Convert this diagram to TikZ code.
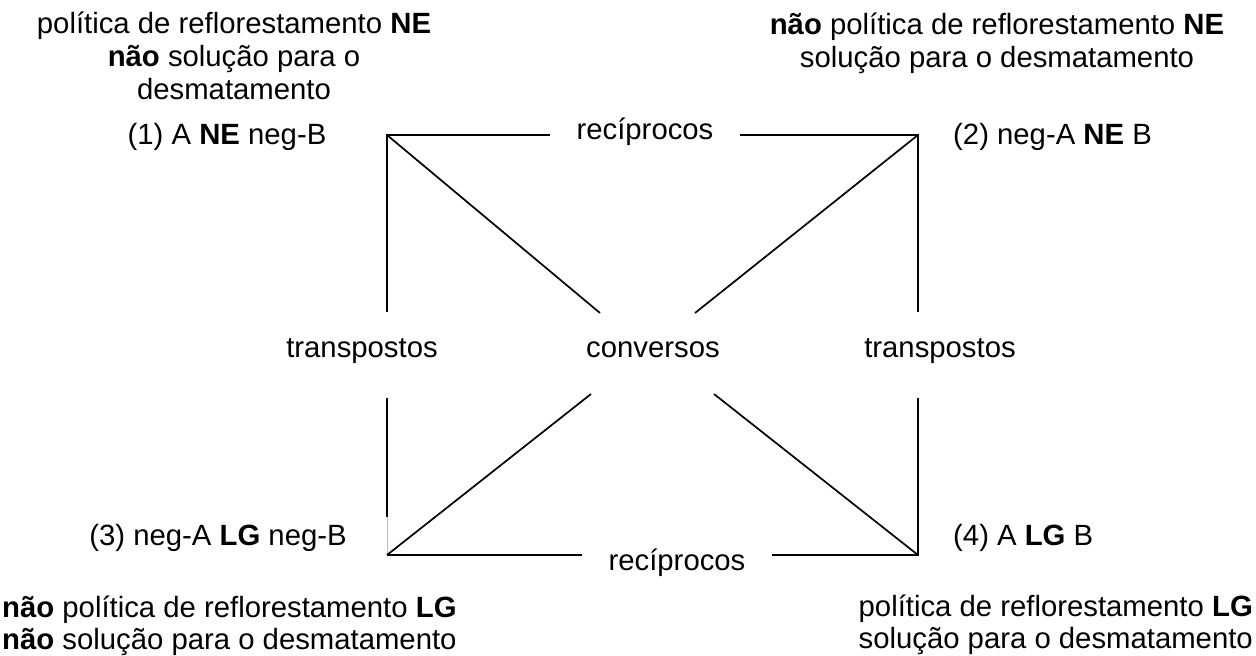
\documentclass[tikz,border=0pt]{standalone}
\usepackage{fontspec}
\setmainfont{Liberation Sans}
\begin{document}
\begin{tikzpicture}[x=1pt,y=-1pt,
  txt/.style={inner sep=0pt, font=\fontsize{29.3}{32.5}\selectfont},
  ln/.style={line width=1.7pt, black, line join=miter}]
\useasboundingbox (0,0) rectangle (1256,656);
% corners and free ends
\coordinate (TL) at (387,135);
\coordinate (TR) at (918,135);
\coordinate (BL) at (387,555);
\coordinate (BR) at (918,555);
\coordinate (t1) at (550,135);
\coordinate (t2) at (740,135);
\coordinate (b1) at (582,555);
\coordinate (b2) at (772,555);
\coordinate (l1) at (387,312);
\coordinate (l2) at (387,398);
\coordinate (l3) at (387,517);
\coordinate (r1) at (918,312);
\coordinate (r2) at (918,398);
\coordinate (d1) at (600,313);
\coordinate (d2) at (695,313);
\coordinate (d3) at (591,394);
\coordinate (d4) at (714,394);
% texts
\node[txt,anchor=base] (tl1) at (234,33) {política de reflorestamento \textbf{NE}};
\node[txt,anchor=base] (tl2) at (234,66) {\textbf{não} solução para o};
\node[txt,anchor=base] (tl3) at (234,99) {desmatamento};
\node[txt,anchor=base] (n1) at (227,144) {(1) A \textbf{NE} neg-B};
\node[txt,anchor=base] (tr1) at (997,34) {\textbf{não} política de reflorestamento \textbf{NE}};
\node[txt,anchor=base] (tr2) at (997,67) {solução para o desmatamento};
\node[txt,anchor=base west] (n2) at (953,144) {(2) neg-A \textbf{NE} B};
\node[txt,anchor=base] (recT) at (645,139) {recíprocos};
\node[txt,anchor=base] (transL) at (362,357) {transpostos};
\node[txt,anchor=base] (conv) at (653,357) {conversos};
\node[txt,anchor=base] (transR) at (940,357) {transpostos};
\node[txt,anchor=base] (n3) at (218,545) {(3) neg-A \textbf{LG} neg-B};
\node[txt,anchor=base west] (n4) at (953,545) {(4) A \textbf{LG} B};
\node[txt,anchor=base] (recB) at (677,570) {recíprocos};
\node[txt,anchor=base west] (bl1) at (2,617) {\textbf{não} política de reflorestamento \textbf{LG}};
\node[txt,anchor=base west] (bl2) at (2,649) {\textbf{não} solução para o desmatamento};
\node[txt,anchor=base east] (br1) at (1253,616) {política de reflorestamento \textbf{LG}};
\node[txt,anchor=base east] (br2) at (1253,648) {solução para o desmatamento};
% connectors
\draw[ln] (t1) -- (TL) -- (l1);
\draw[ln] (t2) -- (TR) -- (r1);
\draw[ln] (TL) -- (d1);
\draw[ln] (TR) -- (d2);
\draw[ln] (l2) -- (l3);
\draw[line width=0.8pt, black!25] (l3) -- (BL);
\draw[ln] (BL) -- (b1);
\draw[ln] (r2) -- (BR) -- (b2);
\draw[ln] (BL) -- (d3);
\draw[ln] (BR) -- (d4);
\end{tikzpicture}
\end{document}
